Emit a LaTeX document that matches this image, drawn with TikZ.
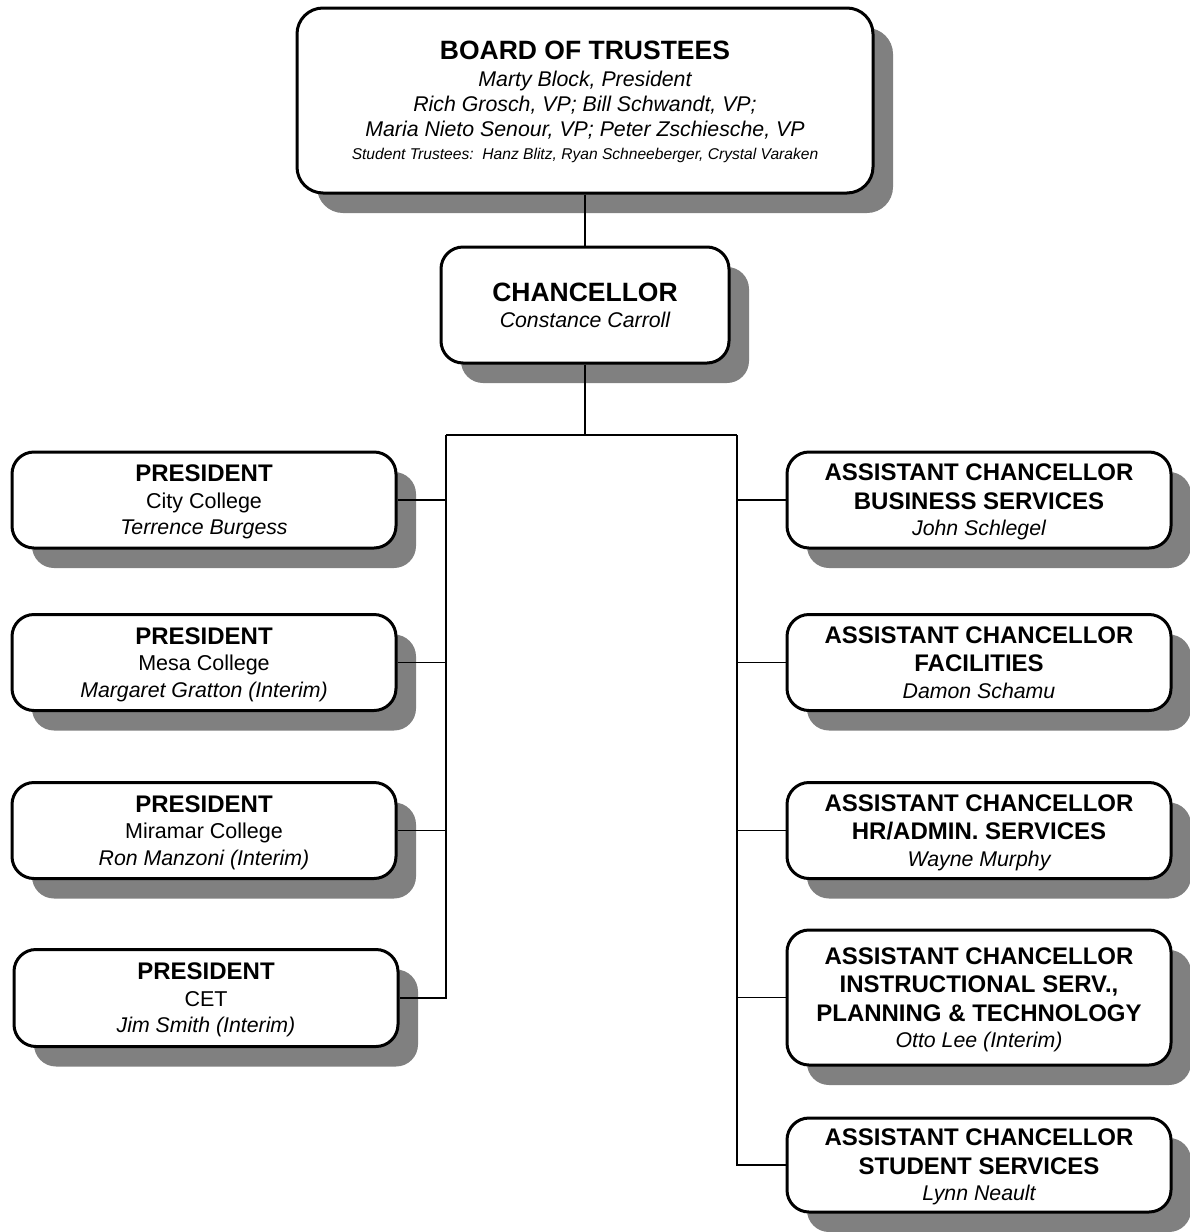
\documentclass[tikz,border=0pt]{standalone}
\usepackage{fontspec}
\setmainfont{Liberation Sans}
\usepackage{xcolor}
\usetikzlibrary{shadows}
\definecolor{SHADE-GRAY}{rgb}{0.5,0.5,0.5}

% text styles of the boxes
\newcommand{\ttl}[1]{{\fontsize{24}{27}\selectfont\bfseries #1}}
\newcommand{\bigttl}[1]{{\fontsize{26.5}{28}\selectfont\bfseries #1}}
\newcommand{\who}[1]{{\fontsize{21.3}{27}\selectfont\itshape #1}}
\newcommand{\plc}[1]{{\fontsize{21.5}{27}\selectfont #1}}

\begin{document}
\begin{tikzpicture}[x=1pt,y=-1pt,
		orgbox/.style={draw,line width=3pt,rounded corners=22pt,fill=white,align=center,inner sep=0pt,
			font=\fontsize{21}{26.5}\selectfont,text depth=0pt,
			drop shadow={shadow xshift=20pt,shadow yshift=-20pt,fill=SHADE-GRAY,opacity=1}},
		link/.style={line width=1.5pt}]
			\useasboundingbox (0,0) rectangle (1190,1232);

			% draw top nodes
			\node (board) at (585,100.5) [orgbox,rounded corners=26pt,minimum width=576pt,minimum height=185pt,
				font=\fontsize{21}{25}\selectfont]
				{\bigttl{BOARD OF TRUSTEES}\\[2pt] \who{Marty Block, President}\\ \who{Rich Grosch, VP; Bill Schwandt, VP;}\\
				\who{Maria Nieto Senour, VP; Peter Zschiesche, VP}\\[-2pt] {\fontsize{15.6}{17}\selectfont\itshape Student Trustees:\ \ Hanz Blitz, Ryan Schneeberger, Crystal Varaken}};
			\node (chan) at (585,305) [orgbox,minimum width=288pt,minimum height=116pt]
				{\bigttl{CHANCELLOR}\\ \who{Constance Carroll}};

			% draw president nodes
			\node (city) at (204,500) [orgbox,minimum width=384pt,minimum height=96pt]
				{\ttl{PRESIDENT}\\ \plc{City College}\\ \who{Terrence Burgess}};
			\node (mesa) at (204,662.5) [orgbox,minimum width=384pt,minimum height=96pt]
				{\ttl{PRESIDENT}\\ \plc{Mesa College}\\ \who{Margaret Gratton (Interim)}};
			\node (mira) at (204,830.5) [orgbox,minimum width=384pt,minimum height=96pt]
				{\ttl{PRESIDENT}\\ \plc{Miramar College}\\ \who{Ron Manzoni (Interim)}};
			\node (cet) at (206,998) [orgbox,minimum width=384pt,minimum height=97pt]
				{\ttl{PRESIDENT}\\ \plc{CET}\\ \who{Jim Smith (Interim)}};

			% draw assistant chancellor nodes
			\node (bus) at (979,500) [orgbox,minimum width=384pt,minimum height=96pt]
				{\ttl{ASSISTANT CHANCELLOR}\\[2pt] \ttl{BUSINESS SERVICES}\\ \who{John Schlegel}};
			\node (fac) at (979,662.5) [orgbox,minimum width=384pt,minimum height=96pt]
				{\ttl{ASSISTANT CHANCELLOR}\\[2pt] \ttl{FACILITIES}\\ \who{Damon Schamu}};
			\node (hr) at (979,830.5) [orgbox,minimum width=384pt,minimum height=96pt]
				{\ttl{ASSISTANT CHANCELLOR}\\[2pt] \ttl{HR/ADMIN. SERVICES}\\ \who{Wayne Murphy}};
			\node (instr) at (979,997.5) [orgbox,minimum width=384pt,minimum height=135pt]
				{\ttl{ASSISTANT CHANCELLOR}\\[2pt] \ttl{INSTRUCTIONAL SERV.,}\\[2pt] \ttl{PLANNING \& TECHNOLOGY}\\ \who{Otto Lee (Interim)}};
			\node (stu) at (979,1165) [orgbox,minimum width=384pt,minimum height=94pt]
				{\ttl{ASSISTANT CHANCELLOR}\\[2pt] \ttl{STUDENT SERVICES}\\ \who{Lynn Neault}};

			% draw connectors
			\coordinate (split) at (585,435);
			\coordinate (lbar) at (446,435);
			\coordinate (rbar) at (737,435);
			\draw[link] (board.south) -- (chan.north);
			\draw[link] (chan.south) -- (split);
			\draw[link] (lbar) -- (rbar);
			\draw[link] (lbar) |- (cet.east);
			\draw[link] (rbar) |- (stu.west);
			\foreach \n in {city,mesa,mira}
				\draw[link] (\n.east) -- (\n.east -| lbar);
			\foreach \n in {bus,fac,hr,instr}
				\draw[link] (\n.west) -- (\n.west -| rbar);
		\end{tikzpicture}
\end{document}
